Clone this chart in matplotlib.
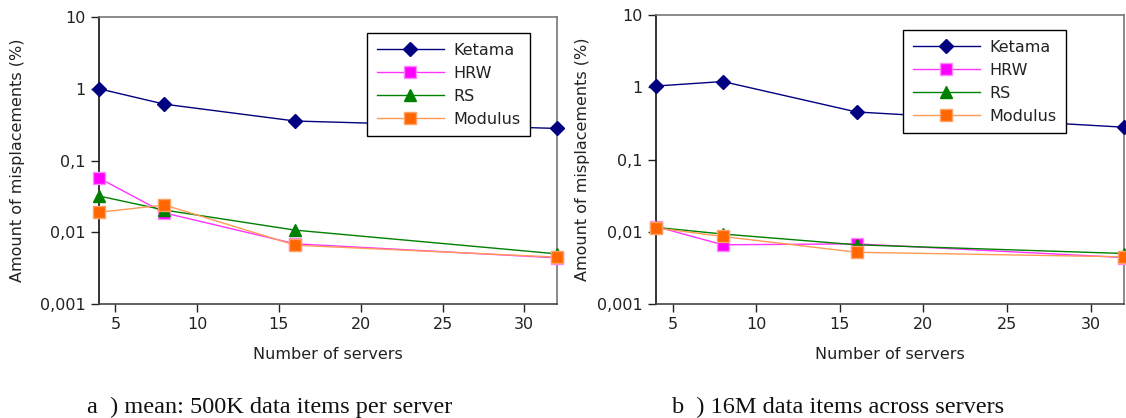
import matplotlib.pyplot as plt
from matplotlib.ticker import FixedLocator, FixedFormatter, NullLocator

servers = [4, 8, 16, 32]

# a) mean: 500K data items per server
ketama_a = [1.0, 0.61, 0.355, 0.28]
hrw_a = [0.057, 0.0186, 0.0069, 0.0044]
rs_a = [0.032, 0.0204, 0.0107, 0.0050]
modulus_a = [0.019, 0.024, 0.0066, 0.0045]

# b) 16M data items across servers
ketama_b = [1.04, 1.2, 0.455, 0.28]
hrw_b = [0.0118, 0.0066, 0.0068, 0.0044]
rs_b = [0.0115, 0.0093, 0.0066, 0.0050]
modulus_b = [0.0113, 0.0086, 0.0052, 0.0045]

series_names = ["Ketama", "HRW", "RS", "Modulus"]
y_ticks = [0.001, 0.01, 0.1, 1, 10]
y_labels = ["0,001", "0,01", "0,1", "1", "10"]
x_ticks = [5, 10, 15, 20, 25, 30]
captions = ["a  ) mean: 500K data items per server",
            "b  ) 16M data items across servers"]

styles = [
    dict(color="#000080", marker="D", markersize=7, markerfacecolor="#000080",
         markeredgecolor="#000080"),
    dict(color="#ff33ff", marker="s", markersize=8.5, markerfacecolor="#ff00ff",
         markeredgecolor="#ff88ff"),
    dict(color="#008000", marker="^", markersize=9, markerfacecolor="#008000",
         markeredgecolor="#008000"),
    dict(color="#ff9a55", marker="s", markersize=8.5, markerfacecolor="#ff6600",
         markeredgecolor="#ffa066"),
]

plt.rcParams["font.family"] = "DejaVu Sans"
plt.rcParams["font.size"] = 11.5

fig = plt.figure(figsize=(11.26, 4.18), dpi=100)
ax_a = fig.add_axes([0.0879, 0.2727, 0.4068, 0.6866])
ax_b = fig.add_axes([0.5826, 0.2727, 0.4156, 0.6914])

panels = [
    (ax_a, [ketama_a, hrw_a, rs_a, modulus_a], (0.585, 0.944), 11),
    (ax_b, [ketama_b, hrw_b, rs_b, modulus_b], (0.528, 0.948), 5),
]

for ax, data, legend_pos, ypad in panels:
    for name, values, st in zip(series_names, data, styles):
        ax.plot(servers, values, label=name, linewidth=1.0,
                markeredgewidth=1.0, clip_on=False, zorder=3, **st)
    ax.set_yscale("log")
    ax.set_ylim(0.001, 10)
    ax.set_xlim(4, 32)
    ax.yaxis.set_major_locator(FixedLocator(y_ticks))
    ax.yaxis.set_major_formatter(FixedFormatter(y_labels))
    ax.yaxis.set_minor_locator(NullLocator())
    ax.set_xticks(x_ticks)
    ax.tick_params(direction="out", length=6, width=1, color="#222222",
                   labelsize=11.5, labelcolor="#222222")
    ax.spines["left"].set_color("#111111")
    ax.spines["bottom"].set_color("#444444")
    ax.spines["top"].set_color("#777777")
    ax.spines["right"].set_color("#777777")
    for s in ax.spines.values():
        s.set_linewidth(1.2)
    ax.set_xlabel("Number of servers", color="#222222", labelpad=11)
    ax.set_ylabel("Amount of misplacements (%)", color="#222222", labelpad=ypad)
    leg = ax.legend(loc="upper left", bbox_to_anchor=legend_pos,
                    borderaxespad=0, handlelength=4.2, handletextpad=0.6,
                    labelspacing=0.5, borderpad=0.6, fancybox=False,
                    framealpha=1, edgecolor="#000000", fontsize=11.5)
    leg.get_frame().set_linewidth(1.0)
    for t in leg.get_texts():
        t.set_color("#222222")

fig.text(87 / 1126, 1 - 413 / 418, captions[0], family="Liberation Serif",
         fontsize=17.5, ha="left", va="baseline", color="#111111")
fig.text(672 / 1126, 1 - 413 / 418, captions[1], family="Liberation Serif",
         fontsize=17.5, ha="left", va="baseline", color="#111111")

fig.savefig("out.png", dpi=100)
